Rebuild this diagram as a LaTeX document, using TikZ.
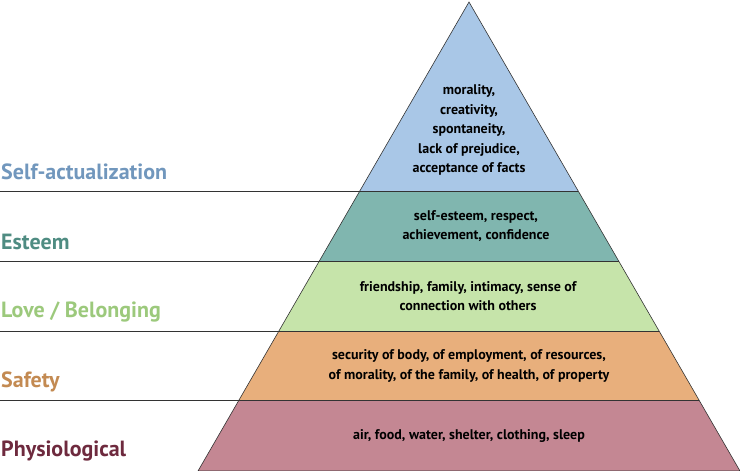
\documentclass[tikz,border=0pt]{standalone}
\usepackage{fontspec}
\setmainfont{PT Sans}
\begin{document}
\begin{tikzpicture}[x=1pt,y=-1pt,
  lay/.style={draw=black!80,line width=0.6pt},
  lab/.style={anchor=west,font=\bfseries\fontsize{22}{24}\selectfont,inner sep=0pt},
  txt/.style={align=center,font=\bfseries\fontsize{14}{19.5}\selectfont,inner sep=0pt}]
\definecolor{cA}{HTML}{A9C7E7}\definecolor{cB}{HTML}{80B6AF}
\definecolor{cC}{HTML}{C6E4AA}\definecolor{cD}{HTML}{E8AF7C}
\definecolor{cE}{HTML}{C48793}
\definecolor{tA}{HTML}{7197BD}\definecolor{tB}{HTML}{4F8C82}
\definecolor{tC}{HTML}{9CC97C}\definecolor{tD}{HTML}{C38A52}
\definecolor{tE}{HTML}{6E2A3E}
\useasboundingbox (0,0) rectangle (740,471);
\def\hw#1{0.57783*(#1-2)}
\coordinate (P) at (469,2);
\foreach \ya/\yb/\c in {2/191/cA,191/261/cB,261/331/cC,331/400/cD,400/471/cE}{
  \fill[\c] ({469-\hw{\ya}},\ya) -- ({469+\hw{\ya}},\ya) -- ({469+\hw{\yb}},\yb) -- ({469-\hw{\yb}},\yb) -- cycle;}
\draw[lay] (198,471) -- (P) -- (740,471) -- cycle;
\foreach \y in {191,261,331,400}{ \draw[lay] (0,\y) -- ({469+\hw{\y}},\y);}
\node[lab,text=tA] (l1) at (1,172) {Self-actualization};
\node[lab,text=tB] (l2) at (1,242) {Esteem};
\node[lab,text=tC] (l3) at (1,312) {Love / Belonging};
\node[lab,text=tD] (l4) at (1,382) {Safety};
\node[lab,text=tE] (l5) at (1,451) {Physiological};
\node[txt] (t1) at (469,130) {morality,\\creativity,\\spontaneity,\\lack of prejudice,\\acceptance of facts};
\node[txt] (t2) at (476,226) {self-esteem, respect,\\achievement, confidence};
\node[txt] (t3) at (468,296) {friendship, family, intimacy, sense of\\connection with others};
\node[txt] (t4) at (469,366) {security of body, of employment, of resources,\\of morality, of the family, of health, of property};
\node[txt] (t5) at (469,436) {air, food, water, shelter, clothing, sleep};
\end{tikzpicture}
\end{document}
